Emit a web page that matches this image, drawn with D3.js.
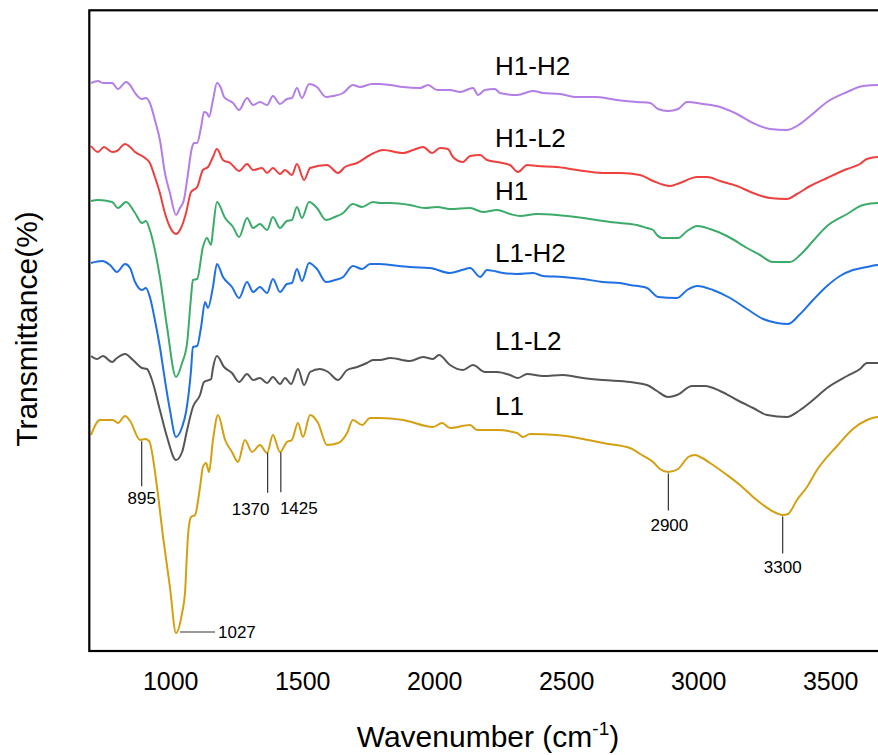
<!DOCTYPE html>
<html>
<head>
<meta charset="utf-8">
<script src="https://cdn.jsdelivr.net/npm/d3@7"></script>
<style>
    body { margin: 0; background: #fff; }
    svg { display: block; }
    text { font-family: "Liberation Sans", Arial, sans-serif; fill: #000; }
</style>
</head>
<body>
<svg id="ftirChart" width="878" height="755"></svg>
<script>
// wavenumber (cm-1), transmittance (arbitrary offset units)
let wavenumberTicks = [1000, 1500, 2000, 2500, 3000, 3500]
let seriesNames = ['H1-H2', 'H1-L2', 'H1', 'L1-H2', 'L1-L2', 'L1']

let seriesH1H2 = [[700,56.8],[727,57.0],[745,56.8],[780,56.8],[802,56.2],[833,56.9],[848,56.6],[867,55.8],[893,55.2],[908,55.3],[923,54.8],[942,53.1],[961,51.1],[980,47.8],[999,45.8],[1022,43.6],[1037,44.3],[1052,45.1],[1064,47.1],[1083,50.4],[1090,50.8],[1102,50.8],[1117,52.4],[1128,53.9],[1139,53.8],[1147,53.4],[1162,55.1],[1177,56.8],[1192,56.3],[1204,55.4],[1219,55.1],[1238,54.8],[1261,54.1],[1291,55.3],[1314,54.6],[1340,54.9],[1367,54.6],[1389,55.5],[1416,54.7],[1442,55.2],[1461,55.3],[1480,56.3],[1499,55.3],[1526,56.7],[1556,56.4],[1590,55.4],[1617,55.5],[1655,55.8],[1692,56.6],[1719,56.4],[1764,56.7],[1795,56.7],[1833,56.6],[1882,56.4],[1946,56.3],[1977,56.6],[2011,56.1],[2060,56.1],[2098,55.9],[2147,56.3],[2166,55.6],[2192,56.1],[2230,56.2],[2249,55.8],[2314,55.6],[2374,56.0],[2412,55.8],[2477,55.7],[2541,55.4],[2617,55.4],[2692,55.1],[2768,54.9],[2818,54.8],[2848,54.2],[2886,54.0],[2924,54.2],[2958,54.9],[3018,54.7],[3083,54.4],[3147,53.7],[3208,52.8],[3272,52.2],[3336,52.1],[3374,52.5],[3424,53.5],[3488,54.9],[3564,55.9],[3624,56.5],[3681,56.6],[3700,56.6]]

let seriesH1L2 = [[700,50.5],[727,49.9],[749,50.4],[780,49.9],[798,50.0],[829,50.7],[848,50.4],[867,49.9],[905,49.3],[923,48.8],[942,47.4],[961,45.8],[980,43.8],[999,42.4],[1022,41.7],[1041,42.3],[1060,43.8],[1079,45.9],[1102,46.4],[1124,48.1],[1143,48.4],[1162,49.4],[1177,50.2],[1200,49.1],[1227,48.8],[1261,48.0],[1291,48.7],[1314,48.1],[1348,48.3],[1367,47.8],[1389,48.3],[1416,47.7],[1435,48.1],[1461,47.6],[1480,48.7],[1507,47.1],[1530,48.3],[1594,48.6],[1636,47.8],[1662,48.4],[1708,48.8],[1757,49.6],[1806,50.1],[1882,49.8],[1920,50.1],[1958,50.4],[1992,49.8],[2022,50.3],[2052,50.2],[2071,49.4],[2109,48.9],[2136,49.5],[2174,49.6],[2200,49.1],[2238,48.9],[2287,48.6],[2317,47.9],[2352,48.6],[2389,48.5],[2465,48.4],[2541,48.1],[2639,47.8],[2704,47.8],[2780,47.6],[2829,47.0],[2893,46.5],[2931,46.8],[2996,47.4],[3033,47.4],[3083,47.0],[3147,46.5],[3208,45.8],[3272,45.3],[3336,45.2],[3374,45.7],[3424,46.5],[3488,47.3],[3564,48.2],[3613,48.7],[3639,49.2],[3681,49.4],[3700,49.4]]

let seriesH1 = [[700,45.0],[727,45.1],[780,44.9],[802,44.3],[833,44.9],[867,43.8],[893,42.8],[908,43.0],[923,42.1],[942,40.1],[961,37.4],[988,32.4],[1022,27.4],[1045,28.8],[1064,30.8],[1079,35.4],[1086,37.1],[1102,37.2],[1124,40.4],[1139,41.3],[1155,40.6],[1162,42.1],[1177,44.9],[1208,43.3],[1238,42.4],[1261,41.4],[1291,43.3],[1314,42.3],[1340,42.7],[1367,42.1],[1389,43.4],[1416,42.3],[1442,43.0],[1461,43.1],[1480,44.4],[1499,43.3],[1526,44.9],[1556,44.3],[1590,43.1],[1624,43.4],[1655,43.8],[1692,44.7],[1727,44.4],[1768,44.9],[1795,44.8],[1833,44.8],[1908,44.6],[1965,44.3],[2011,44.4],[2060,44.2],[2136,44.3],[2185,43.9],[2238,44.1],[2287,43.7],[2325,43.5],[2389,43.7],[2465,43.6],[2564,43.3],[2666,42.9],[2704,42.8],[2768,42.6],[2806,42.3],[2829,42.1],[2844,41.6],[2863,41.3],[2924,41.3],[2958,42.0],[2996,42.5],[3045,42.2],[3109,41.5],[3185,40.3],[3234,39.6],[3283,38.9],[3348,38.9],[3386,39.6],[3435,41.0],[3488,42.5],[3564,43.7],[3624,44.6],[3681,44.8],[3700,44.8]]

let seriesL1H2 = [[700,38.8],[742,39.0],[772,38.6],[798,37.9],[829,38.7],[848,38.3],[867,36.9],[893,36.1],[908,36.3],[923,35.4],[942,33.1],[961,30.4],[980,27.1],[999,24.1],[1022,21.4],[1045,22.4],[1060,23.9],[1079,28.1],[1086,30.4],[1102,30.5],[1117,32.4],[1132,34.9],[1143,34.3],[1162,36.4],[1177,38.7],[1200,37.4],[1234,36.4],[1261,35.3],[1291,36.9],[1314,35.9],[1340,36.4],[1367,35.8],[1389,37.2],[1416,35.9],[1442,36.7],[1461,36.8],[1480,38.2],[1499,37.0],[1526,38.8],[1556,38.2],[1590,36.9],[1624,37.1],[1655,37.4],[1692,38.5],[1727,38.2],[1757,38.7],[1795,38.7],[1833,38.6],[1908,38.4],[1984,38.3],[2060,37.8],[2105,38.1],[2136,38.3],[2174,37.4],[2200,38.1],[2261,37.8],[2314,37.7],[2374,37.8],[2412,37.5],[2488,37.4],[2564,37.2],[2639,36.9],[2704,36.8],[2742,36.6],[2806,36.3],[2848,35.4],[2920,35.3],[2958,36.1],[2996,36.5],[3056,36.1],[3121,35.3],[3185,34.2],[3246,33.2],[3299,32.8],[3340,32.7],[3386,33.7],[3435,35.1],[3488,36.5],[3537,37.5],[3586,38.1],[3639,38.4],[3681,38.6],[3700,38.6]]

let seriesL1L2 = [[700,29.5],[723,29.2],[745,29.5],[780,28.9],[798,29.3],[829,29.7],[859,29.1],[893,28.3],[912,28.2],[931,27.1],[961,24.1],[988,21.4],[1022,19.1],[1045,19.9],[1064,22.1],[1086,24.4],[1113,25.6],[1128,26.9],[1155,27.2],[1162,28.3],[1177,29.5],[1204,28.4],[1234,27.8],[1261,26.9],[1291,27.7],[1314,27.1],[1340,27.3],[1367,26.8],[1389,27.4],[1416,26.7],[1435,27.3],[1458,26.7],[1484,28.2],[1507,26.6],[1530,27.9],[1567,28.2],[1598,27.9],[1636,27.1],[1670,28.1],[1708,28.4],[1745,28.8],[1768,29.1],[1795,29.1],[1833,29.3],[1908,29.0],[1958,29.4],[1995,29.2],[2018,29.6],[2060,28.6],[2109,28.1],[2147,28.6],[2192,27.9],[2238,27.9],[2287,27.6],[2317,27.3],[2352,27.7],[2412,27.5],[2488,27.6],[2564,27.3],[2639,27.1],[2742,26.9],[2791,26.7],[2806,26.6],[2844,26.0],[2886,25.4],[2920,25.6],[2977,26.5],[3026,26.5],[3083,26.0],[3147,25.1],[3208,24.3],[3261,23.6],[3336,23.4],[3386,24.1],[3435,25.1],[3488,26.3],[3564,27.5],[3613,28.2],[3639,28.8],[3681,28.8],[3700,28.8]]

let seriesL1 = [[700,21.6],[734,23.1],[783,23.1],[802,22.8],[829,23.5],[848,23.0],[886,21.1],[905,21.2],[920,21.0],[950,16.4],[973,11.4],[999,6.4],[1022,1.8],[1045,3.8],[1056,5.8],[1067,11.4],[1079,13.4],[1094,13.6],[1113,16.4],[1124,18.4],[1136,18.8],[1147,17.9],[1162,21.1],[1181,23.6],[1208,21.1],[1234,19.9],[1257,18.9],[1283,21.1],[1310,19.9],[1340,20.6],[1367,19.8],[1389,21.6],[1416,19.9],[1442,20.9],[1461,21.1],[1484,22.8],[1503,21.4],[1530,23.6],[1560,22.8],[1594,20.6],[1636,20.8],[1670,21.8],[1692,23.1],[1727,22.6],[1757,23.3],[1795,23.3],[1882,23.1],[1995,22.4],[2030,22.8],[2060,22.3],[2136,22.6],[2162,22.1],[2238,22.1],[2314,21.8],[2336,21.4],[2363,21.7],[2465,21.6],[2564,21.2],[2639,20.8],[2742,20.3],[2780,19.7],[2829,18.9],[2855,18.2],[2886,17.9],[2924,18.2],[2943,18.8],[2962,19.4],[2988,19.6],[3015,19.3],[3056,18.6],[3109,17.6],[3158,16.6],[3208,15.4],[3246,14.6],[3280,14.0],[3321,13.6],[3340,13.7],[3374,15.1],[3412,16.4],[3450,18.1],[3526,20.5],[3586,22.2],[3639,23.1],[3681,23.4],[3700,23.4]]

let seriesValues = [seriesH1H2, seriesH1L2, seriesH1, seriesL1H2, seriesL1L2, seriesL1]
let seriesColors = ['#b37ee6', '#ef3f3f', '#3cab69', '#1f6fe5', '#555555', '#d4a012']

// peak labels marked on the L1 spectrum
let peakLabels = ['895', '1370', '1425', '2900', '3300']
let peakWavenumbers = [892, 1369, 1419, 2887, 3320]
let mainPeakLabel = '1027'
let mainPeakWavenumber = 1022

let svg = d3.select('#ftirChart')
let margin = {top: 10, right: -5, bottom: 104, left: 89}
let width = 878, height = 755

let x = d3.scaleLinear().domain([700, 3700]).range([91, 883])
let y = d3.scaleLinear().domain([0, 64.1]).range([651, 10])

svg.append('defs').append('clipPath').attr('id', 'plotClip')
    .append('rect')
    .attr('x', margin.left).attr('y', margin.top)
    .attr('width', width - margin.left).attr('height', 641)

// series curves
let line = d3.line()
    .x(d => x(d[0]))
    .y(d => y(d[1]))
    .curve(d3.curveMonotoneX)

svg.append('g').attr('clip-path', 'url(#plotClip)')
    .selectAll('path.spectrum')
    .data(seriesValues)
    .enter().append('path')
    .attr('class', 'spectrum')
    .attr('d', line)
    .attr('fill', 'none')
    .attr('stroke', (d, i) => seriesColors[i])
    .attr('stroke-width', 2)
    .attr('stroke-linejoin', 'round')

// frame (right edge lies outside the picture)
svg.append('rect')
    .attr('x', 89.3).attr('y', 10.3)
    .attr('width', 800).attr('height', 640.7)
    .attr('fill', 'none')
    .attr('stroke', '#000')
    .attr('stroke-width', 2.2)

// x axis
let xAxis = svg.append('g')
    .attr('transform', 'translate(0,651)')
    .call(d3.axisBottom(x).tickValues(wavenumberTicks).tickSize(0).tickPadding(21).tickFormat(d3.format('d')))
xAxis.select('.domain').remove()
xAxis.selectAll('text')
    .style('font-family', '"Liberation Sans", Arial, sans-serif')
    .style('font-size', '25px')
    .attr('fill', '#000')

// axis titles
let xTitle = svg.append('text')
    .attr('x', 488).attr('y', 746.5)
    .attr('text-anchor', 'middle')
    .style('font-size', '30px')
xTitle.append('tspan').text('Wavenumber (cm')
xTitle.append('tspan').text('-1').attr('dy', -12).style('font-size', '19px')
xTitle.append('tspan').text(')').attr('dy', 12)

svg.append('text')
    .attr('transform', 'translate(36.5,329) rotate(-90)')
    .attr('text-anchor', 'middle')
    .style('font-size', '30px')
    .text('Transmittance(%)')

// series names
let nameBaselines = [75, 147, 200, 262, 350, 415]
svg.selectAll('text.seriesName')
    .data(seriesNames)
    .enter().append('text')
    .attr('class', 'seriesName')
    .attr('x', 495)
    .attr('y', (d, i) => nameBaselines[i])
    .style('font-size', '26px')
    .text(d => d)

// peak annotations
let l1Value = w => {
    let i = d3.bisector(d => d[0]).left(seriesL1, w)
    let a = seriesL1[Math.max(i - 1, 0)], b = seriesL1[i]
    return a[1] + (b[1] - a[1]) * (w - a[0]) / (b[0] - a[0])
}
let peakLayout = [
    {len: 45, dx: 0, gap: 18},
    {len: 40, dx: -17, gap: 22},
    {len: 40, dx: 18, gap: 22},
    {len: 37, dx: 1, gap: 21},
    {len: 37, dx: 0, gap: 20},
]
let peaks = svg.append('g').attr('class', 'peaks')
peakLabels.forEach((label, i) => {
    let px = x(peakWavenumbers[i])
    let top = y(l1Value(peakWavenumbers[i])) + 1.5
    let bottom = top + peakLayout[i].len
    peaks.append('line')
        .attr('x1', px).attr('x2', px)
        .attr('y1', top).attr('y2', bottom)
        .attr('stroke', '#333').attr('stroke-width', 1.2)
    peaks.append('text')
        .attr('x', px + peakLayout[i].dx)
        .attr('y', bottom + peakLayout[i].gap)
        .attr('text-anchor', 'middle')
        .style('font-size', '17px')
        .text(label)
})
let mainX = x(mainPeakWavenumber), mainY = y(l1Value(mainPeakWavenumber)) - 1
peaks.append('line')
    .attr('x1', mainX + 4).attr('x2', mainX + 39)
    .attr('y1', mainY).attr('y2', mainY)
    .attr('stroke', '#333').attr('stroke-width', 1.2)
peaks.append('text')
    .attr('x', mainX + 42).attr('y', mainY + 6)
    .style('font-size', '17px')
    .text(mainPeakLabel)
</script>
</body>
</html>
